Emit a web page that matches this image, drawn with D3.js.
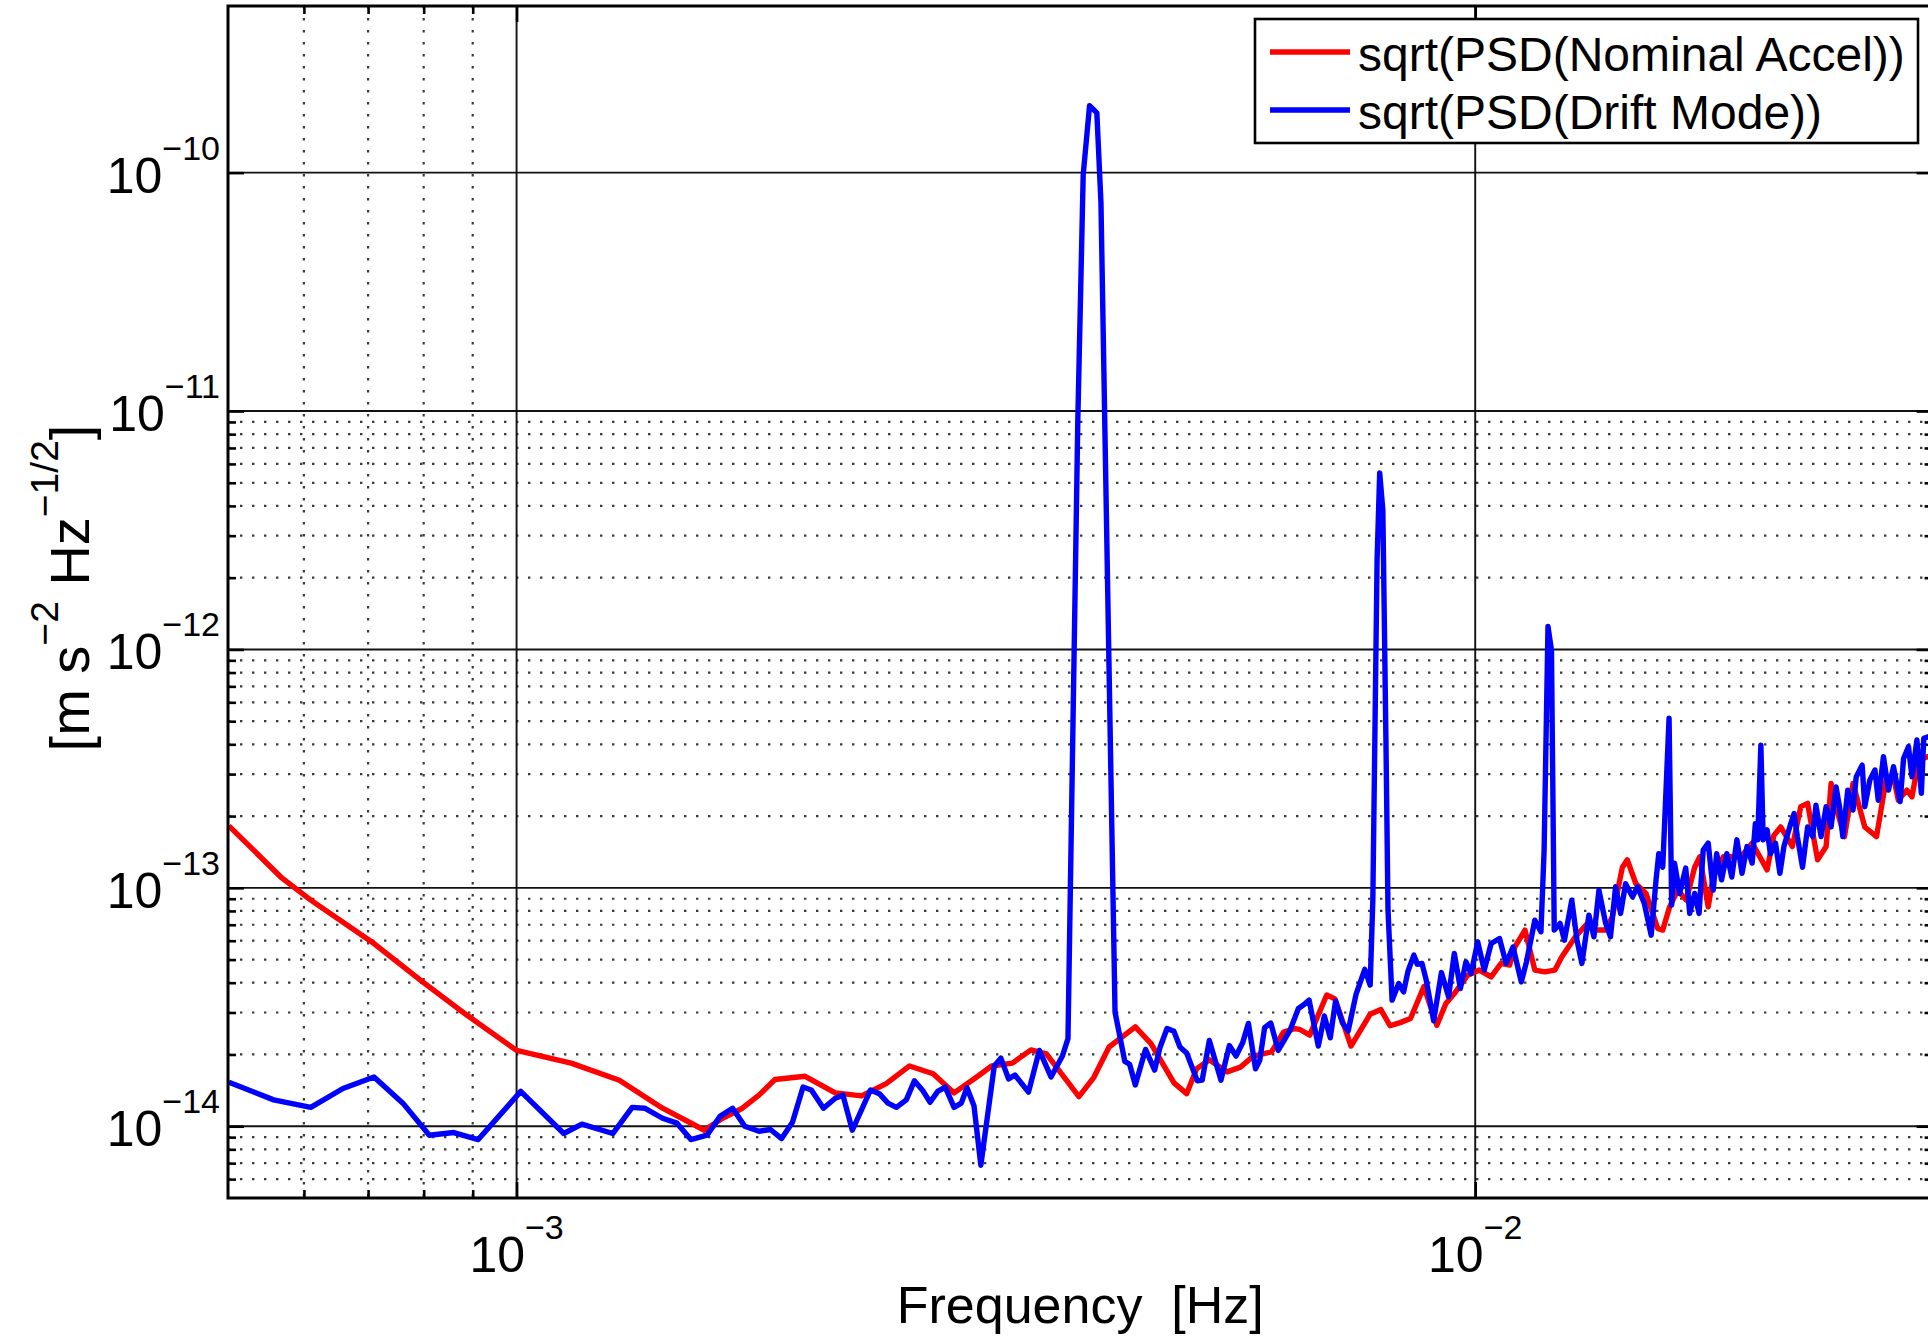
<!DOCTYPE html>
<html>
<head>
<meta charset="utf-8">
<script src="https://cdn.jsdelivr.net/npm/d3@7"></script>
<style>
  html, body { margin: 0; padding: 0; background: #fff; }
  svg { display: block; }
  text { font-family: "Liberation Sans", Arial, Helvetica, sans-serif; fill: #000; }
</style>
</head>
<body>
<svg id="chart" width="1928" height="1343"></svg>
<script>
// ---- Series: amplitude spectral densities (frequency in Hz, value in m s^-2 Hz^-1/2) ----
const nominalFreq = [5.01e-4, 5.69e-4, 6.10e-4, 7.10e-4, 7.98e-4, 8.88e-4, 1.00e-3, 1.14e-3, 1.28e-3, 1.42e-3,
  1.57e-3, 1.64e-3, 1.72e-3, 1.79e-3, 1.86e-3, 2.00e-3, 2.15e-3, 2.29e-3, 2.43e-3, 2.57e-3,
  2.72e-3, 2.86e-3, 3.02e-3, 3.13e-3, 3.29e-3, 3.44e-3, 3.57e-3, 3.86e-3, 4.00e-3, 4.15e-3,
  4.42e-3, 4.59e-3, 4.85e-3, 5.00e-3, 5.12e-3, 5.28e-3, 5.51e-3, 5.69e-3, 5.87e-3, 6.13e-3,
  6.31e-3, 6.49e-3, 6.57e-3, 6.72e-3, 7.00e-3, 7.14e-3, 7.42e-3, 7.77e-3, 7.97e-3, 8.15e-3,
  8.35e-3, 8.56e-3, 8.84e-3, 9.12e-3, 9.32e-3, 9.51e-3, 9.82e-3, 1.010e-2, 1.039e-2, 1.064e-2,
  1.086e-2, 1.100e-2, 1.127e-2, 1.154e-2, 1.182e-2, 1.211e-2, 1.231e-2, 1.272e-2, 1.309e-2, 1.335e-2,
  1.368e-2, 1.390e-2, 1.424e-2, 1.441e-2, 1.471e-2, 1.507e-2, 1.550e-2, 1.569e-2, 1.595e-2, 1.627e-2,
  1.660e-2, 1.694e-2, 1.715e-2, 1.750e-2, 1.771e-2, 1.815e-2, 1.859e-2, 1.905e-2, 1.945e-2, 2.016e-2,
  2.049e-2, 2.083e-2, 2.142e-2, 2.186e-2, 2.222e-2, 2.276e-2, 2.323e-2, 2.351e-2, 2.389e-2, 2.428e-2,
  2.478e-2, 2.549e-2, 2.622e-2, 2.686e-2, 2.731e-2, 2.763e-2, 2.820e-2, 2.855e-2, 2.901e-2, 2.968e-2,
  3.00e-2];
const nominalAsd = [1.82e-13, 1.10e-13, 8.88e-14, 5.84e-14, 4.03e-14, 2.92e-14, 2.08e-14, 1.84e-14, 1.56e-14, 1.19e-14,
  9.62e-15, 1.08e-14, 1.19e-14, 1.35e-14, 1.57e-14, 1.62e-14, 1.38e-14, 1.34e-14, 1.51e-14, 1.79e-14,
  1.66e-14, 1.38e-14, 1.61e-14, 1.79e-14, 1.84e-14, 2.09e-14, 2.01e-14, 1.33e-14, 1.60e-14, 2.15e-14,
  2.61e-14, 2.22e-14, 1.52e-14, 1.37e-14, 1.74e-14, 1.90e-14, 1.69e-14, 1.77e-14, 1.97e-14, 2.05e-14,
  2.48e-14, 2.57e-14, 2.54e-14, 2.41e-14, 3.55e-14, 3.42e-14, 2.17e-14, 2.95e-14, 3.09e-14, 2.64e-14,
  2.72e-14, 2.83e-14, 3.85e-14, 2.65e-14, 3.27e-14, 3.60e-14, 4.30e-14, 4.52e-14, 4.23e-14, 4.82e-14,
  4.74e-14, 5.65e-14, 6.65e-14, 4.52e-14, 4.44e-14, 4.52e-14, 5.13e-14, 6.23e-14, 7.09e-14, 6.65e-14,
  6.65e-14, 7.55e-14, 1.22e-13, 1.31e-13, 1.04e-13, 9.47e-14, 6.76e-14, 6.65e-14, 8.32e-14, 9.78e-14,
  8.88e-14, 1.22e-13, 1.35e-13, 8.32e-14, 1.11e-13, 1.35e-13, 1.35e-13, 1.39e-13, 1.54e-13, 1.19e-13,
  1.66e-13, 1.80e-13, 1.49e-13, 2.19e-13, 2.26e-13, 1.31e-13, 1.49e-13, 2.74e-13, 2.05e-13, 1.64e-13,
  2.74e-13, 1.80e-13, 1.64e-13, 2.92e-13, 2.92e-13, 2.33e-13, 2.57e-13, 2.41e-13, 3.44e-13, 3.55e-13,
  3.50e-13];

const driftFreq = [5.01e-4, 5.58e-4, 6.10e-4, 6.59e-4, 7.10e-4, 7.61e-4, 8.11e-4, 8.60e-4, 9.12e-4, 1.01e-3,
  1.12e-3, 1.17e-3, 1.26e-3, 1.32e-3, 1.36e-3, 1.42e-3, 1.47e-3, 1.52e-3, 1.58e-3, 1.63e-3,
  1.68e-3, 1.73e-3, 1.79e-3, 1.84e-3, 1.89e-3, 1.94e-3, 1.99e-3, 2.03e-3, 2.09e-3, 2.15e-3,
  2.19e-3, 2.24e-3, 2.34e-3, 2.39e-3, 2.44e-3, 2.49e-3, 2.55e-3, 2.60e-3, 2.65e-3, 2.70e-3,
  2.75e-3, 2.80e-3, 2.86e-3, 2.91e-3, 2.95e-3, 3.00e-3, 3.05e-3, 3.15e-3, 3.20e-3, 3.26e-3,
  3.31e-3, 3.42e-3, 3.51e-3, 3.61e-3, 3.71e-3, 3.76e-3, 3.85e-3, 3.90e-3, 3.96e-3, 4.03e-3,
  4.07e-3, 4.21e-3, 4.31e-3, 4.36e-3, 4.42e-3, 4.53e-3, 4.63e-3, 4.69e-3, 4.77e-3, 4.85e-3,
  4.92e-3, 5.00e-3, 5.13e-3, 5.19e-3, 5.28e-3, 5.43e-3, 5.54e-3, 5.63e-3, 5.72e-3, 5.80e-3,
  5.90e-3, 5.96e-3, 6.03e-3, 6.12e-3, 6.23e-3, 6.41e-3, 6.54e-3, 6.63e-3, 6.71e-3, 6.86e-3,
  6.96e-3, 7.06e-3, 7.15e-3, 7.27e-3, 7.37e-3, 7.51e-3, 7.67e-3, 7.77e-3, 7.82e-3, 7.90e-3,
  7.95e-3, 8.01e-3, 8.07e-3, 8.11e-3, 8.19e-3, 8.32e-3, 8.42e-3, 8.51e-3, 8.63e-3, 8.70e-3,
  8.80e-3, 8.89e-3, 9.05e-3, 9.22e-3, 9.38e-3, 9.51e-3, 9.65e-3, 9.78e-3, 9.90e-3, 1.006e-2,
  1.022e-2, 1.039e-2, 1.060e-2, 1.077e-2, 1.095e-2, 1.117e-2, 1.131e-2, 1.154e-2, 1.171e-2, 1.180e-2,
  1.191e-2, 1.201e-2, 1.209e-2, 1.226e-2, 1.239e-2, 1.261e-2, 1.277e-2, 1.292e-2, 1.314e-2, 1.330e-2,
  1.346e-2, 1.368e-2, 1.384e-2, 1.401e-2, 1.418e-2, 1.435e-2, 1.459e-2, 1.477e-2, 1.501e-2, 1.526e-2,
  1.544e-2, 1.554e-2, 1.569e-2, 1.593e-2, 1.603e-2, 1.614e-2, 1.634e-2, 1.658e-2, 1.674e-2, 1.694e-2,
  1.712e-2, 1.729e-2, 1.750e-2, 1.771e-2, 1.786e-2, 1.807e-2, 1.830e-2, 1.852e-2, 1.875e-2, 1.898e-2,
  1.921e-2, 1.945e-2, 1.960e-2, 1.971e-2, 1.986e-2, 1.997e-2, 2.016e-2, 2.032e-2, 2.057e-2, 2.079e-2,
  2.099e-2, 2.134e-2, 2.151e-2, 2.168e-2, 2.195e-2, 2.222e-2, 2.249e-2, 2.267e-2, 2.295e-2, 2.323e-2,
  2.351e-2, 2.379e-2, 2.399e-2, 2.418e-2, 2.447e-2, 2.478e-2, 2.497e-2, 2.533e-2, 2.549e-2, 2.580e-2,
  2.612e-2, 2.633e-2, 2.666e-2, 2.698e-2, 2.731e-2, 2.775e-2, 2.798e-2, 2.831e-2, 2.855e-2, 2.889e-2,
  2.920e-2, 2.937e-2, 2.968e-2, 3.00e-2];
const driftAsd = [1.53e-14, 1.29e-14, 1.20e-14, 1.44e-14, 1.61e-14, 1.25e-14, 9.17e-15, 9.41e-15, 8.79e-15, 1.40e-14,
  9.32e-15, 1.02e-14, 9.32e-15, 1.20e-14, 1.19e-14, 1.08e-14, 1.03e-14, 8.79e-15, 9.17e-15, 1.10e-14,
  1.19e-14, 1.00e-14, 9.53e-15, 9.69e-15, 8.88e-15, 1.04e-14, 1.46e-14, 1.42e-14, 1.19e-14, 1.31e-14,
  1.35e-14, 9.62e-15, 1.42e-14, 1.37e-14, 1.25e-14, 1.20e-14, 1.29e-14, 1.55e-14, 1.42e-14, 1.26e-14,
  1.40e-14, 1.46e-14, 1.20e-14, 1.25e-14, 1.45e-14, 1.22e-14, 6.86e-15, 1.79e-14, 1.93e-14, 1.58e-14,
  1.64e-14, 1.39e-14, 2.08e-14, 1.61e-14, 1.97e-14, 2.33e-14, 9.18e-12, 9.79e-11, 1.91e-10, 1.78e-10,
  7.47e-11, 3.01e-14, 1.87e-14, 1.82e-14, 1.49e-14, 2.10e-14, 1.72e-14, 2.14e-14, 2.57e-14, 2.50e-14,
  2.15e-14, 2.03e-14, 1.55e-14, 1.56e-14, 2.29e-14, 1.56e-14, 2.18e-14, 1.97e-14, 2.24e-14, 2.70e-14,
  1.74e-14, 1.89e-14, 2.59e-14, 2.71e-14, 2.08e-14, 2.53e-14, 3.12e-14, 3.24e-14, 3.38e-14, 2.17e-14,
  2.90e-14, 2.35e-14, 3.35e-14, 2.71e-14, 2.51e-14, 3.57e-14, 4.55e-14, 3.91e-14, 8.88e-14, 2.37e-12,
  5.50e-12, 3.85e-12, 4.17e-13, 8.06e-14, 3.38e-14, 3.97e-14, 3.66e-14, 4.48e-14, 5.22e-14, 4.78e-14,
  4.82e-14, 4.10e-14, 2.77e-14, 4.41e-14, 3.49e-14, 5.31e-14, 3.78e-14, 4.89e-14, 4.37e-14, 5.93e-14,
  4.52e-14, 5.84e-14, 6.13e-14, 4.82e-14, 5.65e-14, 4.03e-14, 4.89e-14, 7.32e-14, 6.54e-14, 1.44e-13,
  1.25e-12, 9.94e-13, 6.65e-14, 7.09e-14, 6.03e-14, 8.88e-14, 6.03e-14, 4.82e-14, 7.68e-14, 6.23e-14,
  9.78e-14, 7.09e-14, 6.23e-14, 1.01e-13, 7.81e-14, 1.04e-13, 9.17e-14, 1.01e-13, 8.60e-14, 6.33e-14,
  1.08e-13, 1.39e-13, 1.22e-13, 5.15e-13, 8.46e-14, 1.27e-13, 9.47e-14, 1.21e-13, 7.81e-14, 9.47e-14,
  7.81e-14, 1.44e-13, 1.54e-13, 9.78e-14, 1.39e-13, 1.08e-13, 1.39e-13, 1.11e-13, 1.59e-13, 1.15e-13,
  1.49e-13, 1.27e-13, 1.86e-13, 1.59e-13, 3.97e-13, 1.59e-13, 1.75e-13, 1.39e-13, 1.54e-13, 1.15e-13,
  1.49e-13, 1.86e-13, 2.05e-13, 1.64e-13, 1.22e-13, 1.80e-13, 1.64e-13, 2.22e-13, 1.64e-13, 2.19e-13,
  1.80e-13, 2.65e-13, 2.19e-13, 1.64e-13, 2.57e-13, 2.12e-13, 2.92e-13, 3.27e-13, 2.19e-13, 2.83e-13,
  3.12e-13, 2.33e-13, 3.55e-13, 2.57e-13, 3.22e-13, 2.30e-13, 3.49e-13, 3.91e-13, 2.92e-13, 4.17e-13,
  2.49e-13, 4.24e-13, 4.30e-13, 4.20e-13];

const seriesNames = ["sqrt(PSD(Nominal Accel))", "sqrt(PSD(Drift Mode))"];
const seriesColors = ["#ff0000", "#0000ff"];

// ---- Axis ticks and labels ----
const xDomain = [5e-4, 3e-2];
const yDomain = [5e-15, 5e-10];
const xMajorTicks = [1e-3, 1e-2];
const xMajorExponents = ["\u22123", "\u22122"];
const xMinorTicks = [6e-4, 7e-4, 8e-4, 9e-4];
const yMajorTicks = [1e-14, 1e-13, 1e-12, 1e-11, 1e-10];
const yMajorExponents = ["\u221214", "\u221213", "\u221212", "\u221211", "\u221210"];
const yMinorTicks = [6e-15, 7e-15, 8e-15, 9e-15,
  2e-14, 3e-14, 4e-14, 5e-14, 6e-14, 7e-14, 8e-14, 9e-14,
  2e-13, 3e-13, 4e-13, 5e-13, 6e-13, 7e-13, 8e-13, 9e-13,
  2e-12, 3e-12, 4e-12, 5e-12, 6e-12, 7e-12, 8e-12, 9e-12];
const xTitle = "Frequency  [Hz]";

// ---- Layout ----
const plot = { left: 228, right: 1932.6, top: 6, bottom: 1198 };
const svg = d3.select("#chart");

const x = d3.scaleLog().domain(xDomain).range([plot.left, plot.right]);
const y = d3.scaleLog().domain(yDomain).range([plot.bottom, plot.top]);

svg.append("defs").append("clipPath").attr("id", "plot-clip")
  .append("rect")
  .attr("x", plot.left).attr("y", plot.top)
  .attr("width", plot.right - plot.left).attr("height", plot.bottom - plot.top);

// ---- Grid ----
const grid = svg.append("g").attr("class", "grid");
const dotted = { stroke: "#3a3a3a", width: 2.2, dash: "2.4,9.6" };

grid.selectAll("line.ygrid-minor").data(yMinorTicks).join("line")
  .attr("class", "ygrid-minor")
  .attr("x1", plot.left).attr("x2", plot.right)
  .attr("y1", d => y(d)).attr("y2", d => y(d))
  .attr("stroke", dotted.stroke).attr("stroke-width", dotted.width)
  .attr("stroke-dasharray", dotted.dash);

grid.selectAll("line.xgrid-minor").data(xMinorTicks).join("line")
  .attr("class", "xgrid-minor")
  .attr("x1", d => x(d)).attr("x2", d => x(d))
  .attr("y1", plot.top).attr("y2", plot.bottom)
  .attr("stroke", dotted.stroke).attr("stroke-width", dotted.width)
  .attr("stroke-dasharray", dotted.dash);

grid.selectAll("line.ygrid-major").data(yMajorTicks).join("line")
  .attr("class", "ygrid-major")
  .attr("x1", plot.left).attr("x2", plot.right)
  .attr("y1", d => y(d)).attr("y2", d => y(d))
  .attr("stroke", "#111").attr("stroke-width", 1.9);

grid.selectAll("line.xgrid-major").data(xMajorTicks).join("line")
  .attr("class", "xgrid-major")
  .attr("x1", d => x(d)).attr("x2", d => x(d))
  .attr("y1", plot.top).attr("y2", plot.bottom)
  .attr("stroke", "#111").attr("stroke-width", 1.9);

// ---- Axis ticks (all pointing inward) ----
function styleAxis(g) {
  g.select(".domain").remove();
  g.selectAll(".tick line").attr("stroke", "#000").attr("stroke-width", 2.6);
  g.selectAll(".tick text").remove();
}
const majorLen = 16, minorLen = 8;
const axes = svg.append("g").attr("class", "axes");

axes.append("g").attr("transform", `translate(0,${plot.bottom})`)
  .call(d3.axisBottom(x).tickValues(xMajorTicks).tickSize(-majorLen).tickFormat(() => "")).call(styleAxis);
axes.append("g").attr("transform", `translate(0,${plot.bottom})`)
  .call(d3.axisBottom(x).tickValues(xMinorTicks).tickSize(-minorLen).tickFormat(() => "")).call(styleAxis);
axes.append("g").attr("transform", `translate(0,${plot.top})`)
  .call(d3.axisTop(x).tickValues(xMajorTicks).tickSize(-majorLen).tickFormat(() => "")).call(styleAxis);
axes.append("g").attr("transform", `translate(0,${plot.top})`)
  .call(d3.axisTop(x).tickValues(xMinorTicks).tickSize(-minorLen).tickFormat(() => "")).call(styleAxis);
axes.append("g").attr("transform", `translate(${plot.left},0)`)
  .call(d3.axisLeft(y).tickValues(yMajorTicks).tickSize(-majorLen).tickFormat(() => "")).call(styleAxis);
axes.append("g").attr("transform", `translate(${plot.left},0)`)
  .call(d3.axisLeft(y).tickValues(yMinorTicks).tickSize(-minorLen).tickFormat(() => "")).call(styleAxis);
axes.append("g").attr("transform", `translate(${plot.right},0)`)
  .call(d3.axisRight(y).tickValues(yMajorTicks).tickSize(-majorLen).tickFormat(() => "")).call(styleAxis);
axes.append("g").attr("transform", `translate(${plot.right},0)`)
  .call(d3.axisRight(y).tickValues(yMinorTicks).tickSize(-minorLen).tickFormat(() => "")).call(styleAxis);

// ---- Curves ----
const lineWidth = 5.4;
const line = d3.line().x(d => x(d[0])).y(d => y(d[1]));
const curves = svg.append("g").attr("clip-path", "url(#plot-clip)");
const series = [
  d3.zip(nominalFreq, nominalAsd),
  d3.zip(driftFreq, driftAsd)
];
curves.selectAll("path").data(series).join("path")
  .attr("d", line)
  .attr("fill", "none")
  .attr("stroke", (d, i) => seriesColors[i])
  .attr("stroke-width", lineWidth)
  .attr("stroke-linejoin", "round");

// ---- Frame ----
svg.append("rect")
  .attr("x", plot.left).attr("y", plot.top)
  .attr("width", plot.right - plot.left).attr("height", plot.bottom - plot.top)
  .attr("fill", "none").attr("stroke", "#000").attr("stroke-width", 3);

// ---- Tick labels: 10 with superscript exponent ----
const tickFont = 50, expFont = 34, expRaise = 33;

svg.append("g").selectAll("text").data(xMajorTicks).join("text")
  .attr("x", d => x(d))
  .attr("y", plot.bottom + 74)
  .attr("text-anchor", "middle")
  .attr("font-size", tickFont)
  .each(function (d, i) {
    const t = d3.select(this);
    t.append("tspan").text("10");
    t.append("tspan").attr("dy", -expRaise).attr("font-size", expFont).text(xMajorExponents[i]);
  });

svg.append("g").selectAll("text").data(yMajorTicks).join("text")
  .attr("x", plot.left - 8)
  .attr("y", d => y(d) + 20)
  .attr("text-anchor", "end")
  .attr("font-size", tickFont)
  .each(function (d, i) {
    const t = d3.select(this);
    t.append("tspan").text("10");
    t.append("tspan").attr("dy", -expRaise).attr("font-size", expFont).text(yMajorExponents[i]);
  });

// ---- Axis titles ----
svg.append("text")
  .attr("x", (plot.left + plot.right) / 2)
  .attr("y", 1323)
  .attr("text-anchor", "middle")
  .attr("font-size", 52)
  .style("white-space", "pre")
  .text(xTitle);

const yTitle = svg.append("text")
  .attr("transform", "translate(89,588) rotate(-90)")
  .attr("text-anchor", "middle")
  .attr("font-size", 56)
  .style("white-space", "pre");
yTitle.append("tspan").text("[m s");
yTitle.append("tspan").attr("dy", -31).attr("font-size", 39).text("\u22122");
yTitle.append("tspan").attr("dy", 31).text(" Hz");
yTitle.append("tspan").attr("dy", -31).attr("font-size", 39).text("\u22121/2");
yTitle.append("tspan").attr("dy", 31).text("]");

// ---- Legend ----
const legend = svg.append("g").attr("class", "legend");
legend.append("rect")
  .attr("x", 1255).attr("y", 19).attr("width", 663).attr("height", 124)
  .attr("fill", "#fff").attr("stroke", "#000").attr("stroke-width", 2.6);
const rowY = [52, 110];
const entries = legend.selectAll("g.entry").data(seriesNames).join("g").attr("class", "entry");
entries.append("line")
  .attr("x1", 1270).attr("x2", 1350)
  .attr("y1", (d, i) => rowY[i]).attr("y2", (d, i) => rowY[i])
  .attr("stroke", (d, i) => seriesColors[i]).attr("stroke-width", lineWidth);
entries.append("text")
  .attr("x", 1358)
  .attr("y", (d, i) => rowY[i] + 19)
  .attr("font-size", 48)
  .text(d => d);
</script>
</body>
</html>
